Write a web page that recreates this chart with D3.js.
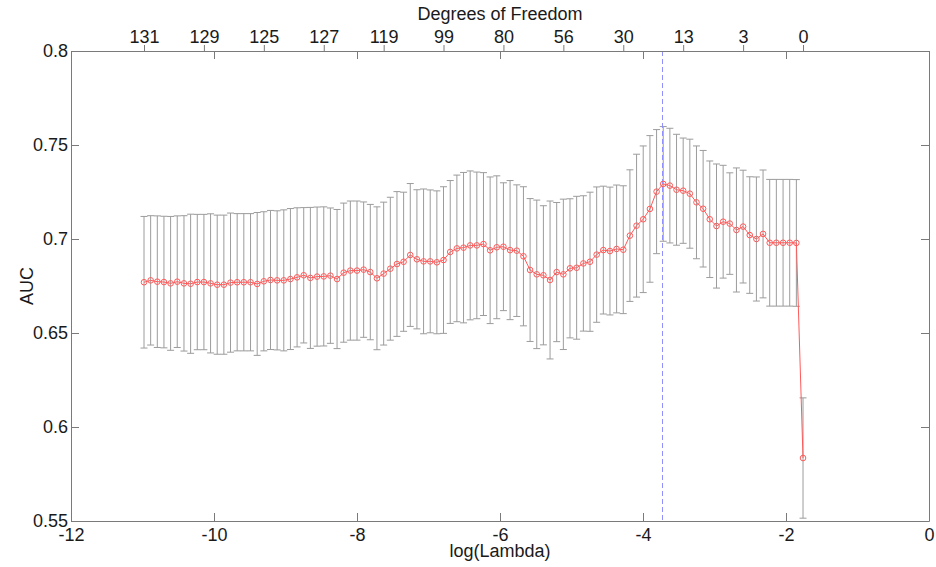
<!DOCTYPE html>
<html>
<head>
<meta charset="utf-8">
<script src="https://cdn.jsdelivr.net/npm/d3@7"></script>
<style>
  body { margin: 0; background: #fff; }
  svg text { font-family: "Liberation Sans", Arial, sans-serif; fill: #1a1a1a; }
</style>
</head>
<body>
<svg id="canvas" width="936" height="567"></svg>
<script>
"use strict";

// log(lambda) grid of the fit
const logLambda = [
  -10.979, -10.886, -10.793, -10.700, -10.607, -10.514, -10.420, -10.327, -10.234, -10.141,
  -10.048, -9.955, -9.862, -9.769, -9.676, -9.583, -9.489, -9.396, -9.303, -9.210,
  -9.117, -9.024, -8.931, -8.838, -8.745, -8.652, -8.558, -8.465, -8.372, -8.279,
  -8.186, -8.093, -8.000, -7.907, -7.814, -7.721, -7.627, -7.534, -7.441, -7.348,
  -7.255, -7.162, -7.069, -6.976, -6.883, -6.790, -6.696, -6.603, -6.510, -6.417,
  -6.324, -6.231, -6.138, -6.045, -5.952, -5.859, -5.765, -5.672, -5.579, -5.486,
  -5.393, -5.300, -5.207, -5.114, -5.021, -4.928, -4.834, -4.741, -4.648, -4.555,
  -4.462, -4.369, -4.276, -4.183, -4.090, -3.997, -3.903, -3.810, -3.717, -3.624,
  -3.531, -3.438, -3.345, -3.252, -3.159, -3.066, -2.972, -2.879, -2.786, -2.693,
  -2.600, -2.507, -2.414, -2.321, -2.228, -2.135, -2.041, -1.948, -1.855, -1.762
];

// mean cross-validated AUC
const aucMean = [
  0.6770, 0.6780, 0.6773, 0.6771, 0.6764, 0.6773, 0.6764, 0.6762, 0.6771, 0.6771,
  0.6764, 0.6757, 0.6757, 0.6768, 0.6770, 0.6770, 0.6770, 0.6761, 0.6775, 0.6782,
  0.6780, 0.6780, 0.6787, 0.6796, 0.6807, 0.6793, 0.6800, 0.6801, 0.6805, 0.6787,
  0.6821, 0.6832, 0.6832, 0.6837, 0.6824, 0.6791, 0.6816, 0.6842, 0.6867, 0.6879,
  0.6915, 0.6892, 0.6881, 0.6881, 0.6876, 0.6888, 0.6931, 0.6950, 0.6954, 0.6966,
  0.6966, 0.6973, 0.6940, 0.6956, 0.6959, 0.6941, 0.6938, 0.6908, 0.6835, 0.6812,
  0.6807, 0.6782, 0.6824, 0.6812, 0.6844, 0.6847, 0.6870, 0.6879, 0.6917, 0.6941,
  0.6936, 0.6947, 0.6943, 0.7018, 0.7071, 0.7105, 0.7160, 0.7252, 0.7293, 0.7284,
  0.7262, 0.7257, 0.7241, 0.7195, 0.7161, 0.7105, 0.7069, 0.7092, 0.7082, 0.7048,
  0.7066, 0.7021, 0.7000, 0.7027, 0.6980, 0.6980, 0.6980, 0.6980, 0.6979, 0.5835
];

// half width of the error bars
const aucErr = [
  0.0350, 0.0344, 0.0350, 0.0350, 0.0356, 0.0350, 0.0360, 0.0370, 0.0360, 0.0360,
  0.0370, 0.0370, 0.0370, 0.0370, 0.0365, 0.0365, 0.0365, 0.0380, 0.0370, 0.0370,
  0.0370, 0.0375, 0.0375, 0.0370, 0.0360, 0.0375, 0.0370, 0.0370, 0.0360, 0.0370,
  0.0370, 0.0370, 0.0370, 0.0360, 0.0360, 0.0380, 0.0380, 0.0380, 0.0385, 0.0370,
  0.0380, 0.0370, 0.0385, 0.0380, 0.0380, 0.0390, 0.0380, 0.0390, 0.0400, 0.0396,
  0.0390, 0.0380, 0.0390, 0.0380, 0.0340, 0.0370, 0.0350, 0.0370, 0.0380, 0.0395,
  0.0370, 0.0420, 0.0370, 0.0400, 0.0370, 0.0380, 0.0360, 0.0370, 0.0360, 0.0340,
  0.0340, 0.0340, 0.0340, 0.0350, 0.0380, 0.0390, 0.0390, 0.0330, 0.0305, 0.0305,
  0.0295, 0.0280, 0.0290, 0.0300, 0.0310, 0.0310, 0.0330, 0.0300, 0.0270, 0.0330,
  0.0300, 0.0310, 0.0330, 0.0340, 0.0337, 0.0337, 0.0337, 0.0337, 0.0337, 0.0320
];

// degrees of freedom shown on the top axis, at every 9th lambda
const dfIndex = [0, 9, 18, 27, 36, 45, 54, 63, 72, 81, 90, 99];
const dfLabels = ["131", "129", "125", "127", "119", "99", "80", "56", "30", "13", "3", "0"];

const xTicks = [-12, -10, -8, -6, -4, -2, 0];
const yTicks = [0.55, 0.6, 0.65, 0.7, 0.75, 0.8];
const lambdaMin = -3.717;

const margin = { top: 51, right: 7, bottom: 46, left: 71 };
const width = 936 - margin.left - margin.right;
const height = 567 - margin.top - margin.bottom;

const axisColor = "#7a7a7a";
const fontSize = "18px";

const svg = d3.select("#canvas");
const g = svg.append("g").attr("transform", `translate(${margin.left},${margin.top})`);

const x = d3.scaleLinear().domain([-12, 0]).range([0, width]);
const y = d3.scaleLinear().domain([0.55, 0.8]).range([height, 0]);

const data = logLambda.map((l, i) => ({ l: l, m: aucMean[i], e: aucErr[i] }));

g.append("clipPath")
  .attr("id", "clip")
  .append("rect")
  .attr("width", width)
  .attr("height", height);

const plot = g.append("g").attr("clip-path", "url(#clip)");

// error bars
const capW = 3.5;
const bars = plot.append("g").attr("stroke", "#9c9c9c").attr("stroke-width", 1).attr("fill", "none");
bars.selectAll("path")
  .data(data)
  .enter()
  .append("path")
  .attr("d", (d) => {
    const cx = x(d.l);
    const y1 = y(d.m + d.e);
    const y0 = y(d.m - d.e);
    return `M${cx},${y0}V${y1}M${cx - capW},${y1}H${cx + capW}M${cx - capW},${y0}H${cx + capW}`;
  });

// minimum lambda marker, snapped to the pixel grid so it stays blue
const xMin = Math.round(x(lambdaMin)) - 0.5;
plot.append("line")
  .attr("x1", xMin)
  .attr("x2", xMin)
  .attr("y1", 0)
  .attr("y2", height)
  .attr("stroke", "#9090ff")
  .attr("stroke-width", 1)
  .attr("stroke-dasharray", "5,3");

// mean line with circles
const line = d3.line().x((d) => x(d.l)).y((d) => y(d.m));
plot.append("path")
  .datum(data)
  .attr("d", line)
  .attr("fill", "none")
  .attr("stroke", "#ff5a5a")
  .attr("stroke-width", 1);

plot.append("g")
  .selectAll("circle")
  .data(data)
  .enter()
  .append("circle")
  .attr("cx", (d) => x(d.l))
  .attr("cy", (d) => y(d.m))
  .attr("r", 2.8)
  .attr("fill", "none")
  .attr("stroke", "#ff5a5a")
  .attr("stroke-width", 1);

// axes
const styleAxis = (sel) => {
  sel.selectAll("path, line").attr("stroke", axisColor);
  sel.selectAll("text").style("font-size", fontSize).attr("fill", "#1a1a1a");
};

g.append("g")
  .attr("transform", `translate(0,${height})`)
  .call(d3.axisBottom(x).tickValues(xTicks).tickSize(-8).tickSizeOuter(0).tickPadding(7).tickFormat((d) => String(d)))
  .call(styleAxis);

g.append("g")
  .call(d3.axisTop(x).tickValues(xTicks).tickSize(-8).tickSizeOuter(0).tickFormat(""))
  .call(styleAxis);

g.append("g")
  .call(d3.axisTop(x).tickValues(dfIndex.map((i) => logLambda[i])).tickSize(6).tickSizeOuter(0).tickPadding(2)
    .tickFormat((d, i) => dfLabels[i]))
  .call(styleAxis)
  .call((a) => a.select(".domain").remove());

g.append("g")
  .call(d3.axisLeft(y).tickValues(yTicks).tickSize(-8).tickSizeOuter(0).tickPadding(3).tickFormat((d) => String(d)))
  .call(styleAxis);

g.append("g")
  .attr("transform", `translate(${width},0)`)
  .call(d3.axisRight(y).tickValues(yTicks).tickSize(-8).tickSizeOuter(0).tickFormat(""))
  .call(styleAxis);

// labels
svg.append("text")
  .attr("x", margin.left + width / 2)
  .attr("y", 557)
  .attr("text-anchor", "middle")
  .style("font-size", fontSize)
  .text("log(Lambda)");

svg.append("text")
  .attr("x", margin.left + width / 2)
  .attr("y", 20)
  .attr("text-anchor", "middle")
  .style("font-size", fontSize)
  .text("Degrees of Freedom");

svg.append("text")
  .attr("transform", `translate(33,${margin.top + height / 2}) rotate(-90)`)
  .attr("text-anchor", "middle")
  .style("font-size", fontSize)
  .text("AUC");
</script>
</body>
</html>
